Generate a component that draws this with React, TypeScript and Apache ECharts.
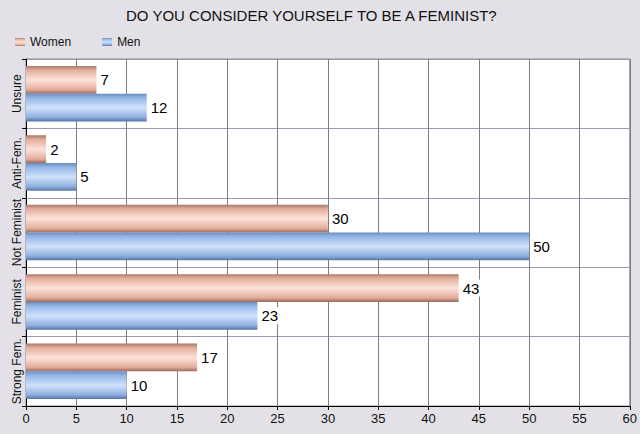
import React, { useEffect, useRef } from "react";
import * as echarts from "echarts";

const categories = ["Strong Fem.", "Feminist", "Not Feminist", "Anti-Fem.", "Unsure"];
const women = [17, 43, 30, 2, 7];
const men = [10, 23, 50, 5, 12];
const titleText = "DO YOU CONSIDER YOURSELF TO BE A FEMINIST?";

const womenGrad = new echarts.graphic.LinearGradient(0, 0, 0, 1, [
  { offset: 0, color: "#a9796b" },
  { offset: 0.15, color: "#e3ad9c" },
  { offset: 0.5, color: "#fde2da" },
  { offset: 0.85, color: "#e3ad9c" },
  { offset: 1, color: "#9c6a5c" },
]);
const menGrad = new echarts.graphic.LinearGradient(0, 0, 0, 1, [
  { offset: 0, color: "#6b8cc0" },
  { offset: 0.15, color: "#94b6e6" },
  { offset: 0.5, color: "#d0e2fb" },
  { offset: 0.85, color: "#8eaedf" },
  { offset: 1, color: "#56749f" },
]);

export default function App() {
  const ref = useRef<HTMLDivElement>(null);
  useEffect(() => {
    const chart = echarts.init(ref.current!, undefined, { renderer: "svg" });
    const font = "Arial, 'Liberation Sans', sans-serif";
    const label = {
      show: true,
      position: "right" as const,
      distance: 2,
      color: "#000",
      fontSize: 15,
      fontFamily: font,
      backgroundColor: "#fff",
      padding: [1, 2, 1, 2],
    };
    chart.setOption({
      animation: false,
      backgroundColor: "#e3e1e7",
      textStyle: { fontFamily: font },
      title: {
        text: titleText,
        left: 121,
        top: 3,
        textStyle: { fontSize: 15, fontWeight: "normal", color: "#111", fontFamily: font },
      },
      legend: {
        data: ["Women", "Men"],
        left: 10,
        top: 31,
        itemWidth: 10,
        itemHeight: 8,
        itemGap: 31,
        icon: "rect",
        textStyle: { fontSize: 12, color: "#111", fontFamily: font },
      },
      grid: {
        left: 26,
        right: 10,
        top: 59,
        bottom: 28,
        show: true,
        backgroundColor: "#fff",
        borderColor: "#8a8a96",
        borderWidth: 1,
      },
      xAxis: {
        type: "value",
        min: 0,
        max: 60,
        interval: 5,
        axisLine: { show: true, lineStyle: { color: "#000" } },
        axisTick: { show: true, length: 4, lineStyle: { color: "#000" } },
        axisLabel: { fontSize: 13, color: "#111", margin: 6, fontFamily: font },
        splitLine: { show: true, lineStyle: { color: "#7d7d88" } },
      },
      yAxis: {
        type: "category",
        data: categories,
        axisLine: { show: true, lineStyle: { color: "#000" } },
        axisTick: { show: true, length: 4, lineStyle: { color: "#000" } },
        axisLabel: { fontSize: 12, color: "#111", rotate: 90, margin: 3, interval: 0, fontFamily: font },
        splitLine: { show: true, lineStyle: { color: "#9a9ab0" } },
      },
      series: [
        {
          name: "Women",
          type: "bar",
          data: women,
          barGap: "0%",
          barCategoryGap: "20%",
          itemStyle: { color: womenGrad },
          label,
        },
        {
          name: "Men",
          type: "bar",
          data: men,
          barGap: "0%",
          barCategoryGap: "20%",
          itemStyle: { color: menGrad },
          label,
        },
      ],
    });
    return () => chart.dispose();
  }, []);
  return <div ref={ref} style={{ width: 640, height: 434, position: "absolute", left: 0, top: 0 }} />;
}
